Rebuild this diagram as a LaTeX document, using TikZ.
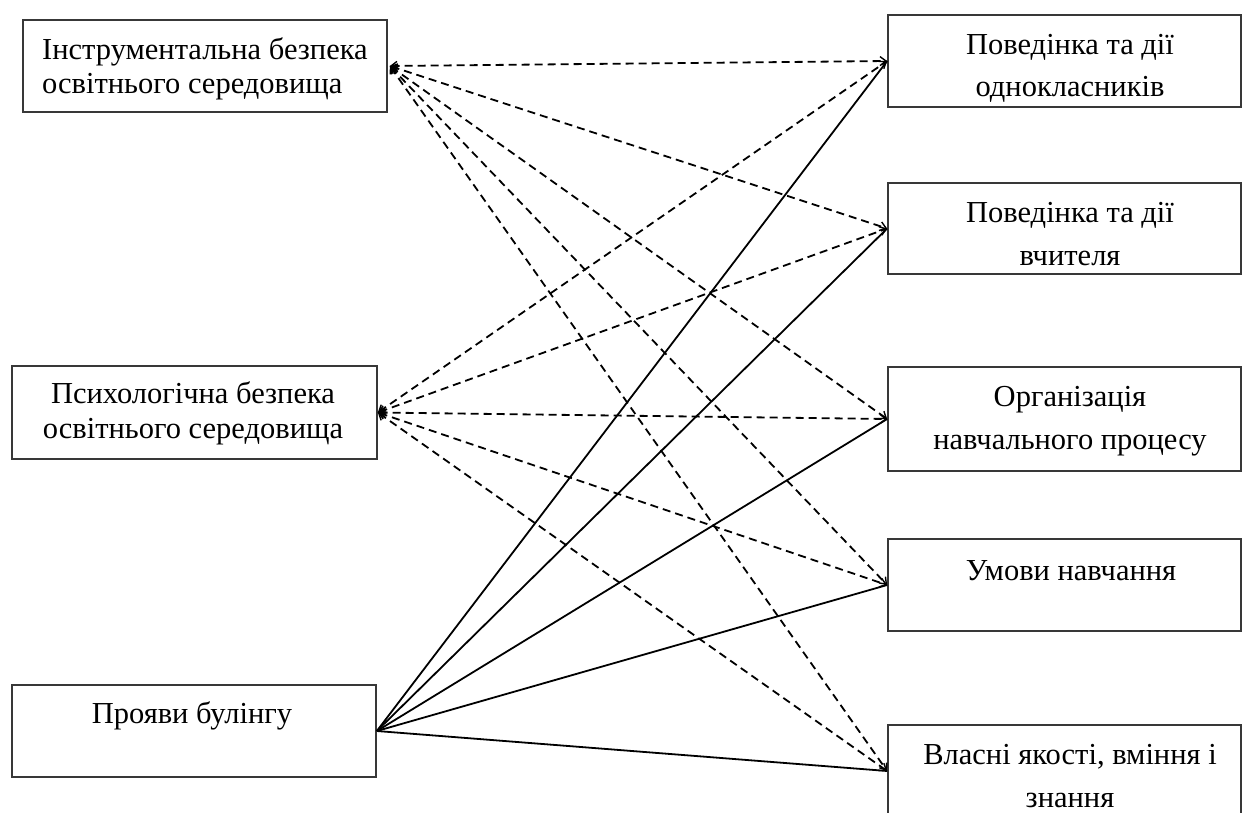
\documentclass[tikz,border=0pt]{standalone}
\usepackage{fontspec}
\setmainfont{Liberation Serif}
\newfontfamily\boxfont{Liberation Serif}
\usetikzlibrary{arrows.meta}
\tikzset{
  box/.style={draw=black!78, line width=1.7pt, rectangle, inner sep=0pt},
  lefttxt/.style={anchor=base, inner sep=0pt, font=\boxfont\fontsize{30.5}{34.5}\selectfont},
  righttxt/.style={anchor=base, inner sep=0pt, align=center, font=\boxfont\fontsize{30.5}{42.5}\selectfont},
  link/.style={line width=1.8pt, black},
  dlink/.style={link, dash pattern=on 8pt off 5pt,
    {Straight Barb[length=6pt,width=9pt,line width=1.4pt]}-{Straight Barb[length=6pt,width=9pt,line width=1.4pt]}}
}
\begin{document}
\begin{tikzpicture}[x=1pt, y=-1pt]
\useasboundingbox (0,0) rectangle (1242,813);
\begin{scope}
\clip (0,0) rectangle (1242,813);
% left column
\node[box, minimum width=364pt, minimum height=92pt] (instr) at (205,66) {};
\node[box, minimum width=365pt, minimum height=93pt] (psych) at (194.5,412.5) {};
\node[box, minimum width=364pt, minimum height=92pt] (bull) at (194,731) {};
% right column
\node[box, minimum width=353pt, minimum height=92pt] (mates) at (1064.5,61) {};
\node[box, minimum width=353pt, minimum height=91pt] (teach) at (1064.5,228.5) {};
\node[box, minimum width=353pt, minimum height=104pt] (proc) at (1064.5,419) {};
\node[box, minimum width=353pt, minimum height=92pt] (cond) at (1064.5,585) {};
\node[box, minimum width=353pt, minimum height=92pt] (own) at (1064.5,771) {};
\end{scope}

% box texts (multi-line nodes sit on the baseline of their last line)
\node[lefttxt, align=left, anchor=base west] (instrT) at (42,94) {Інструментальна безпека\\освітнього середовища};
\node[lefttxt, align=center] (psychT) at (193,438) {Психологічна безпека\\освітнього середовища};
\node[lefttxt] (bullT) at (192,723) {Прояви булінгу};
\node[righttxt] (matesT) at (1070,97) {Поведінка та дії\\однокласників};
\node[righttxt] (teachT) at (1070,265) {Поведінка та дії\\вчителя};
\node[righttxt] (procT) at (1070,449) {Організація\\навчального процесу};
\node[righttxt] (condT) at (1071,580) {Умови навчання};
\node[righttxt] (ownT) at (1070,807) {Власні якості, вміння і\\знання};

% links
\foreach \t in {mates,teach,proc,cond,own}{
  \draw[dlink] ([xshift=2pt]instr.east) -- (\t.west);
  \draw[dlink] (psych.east) -- (\t.west);
  \draw[link] (bull.east) -- (\t.west);
}
\end{tikzpicture}
\end{document}
